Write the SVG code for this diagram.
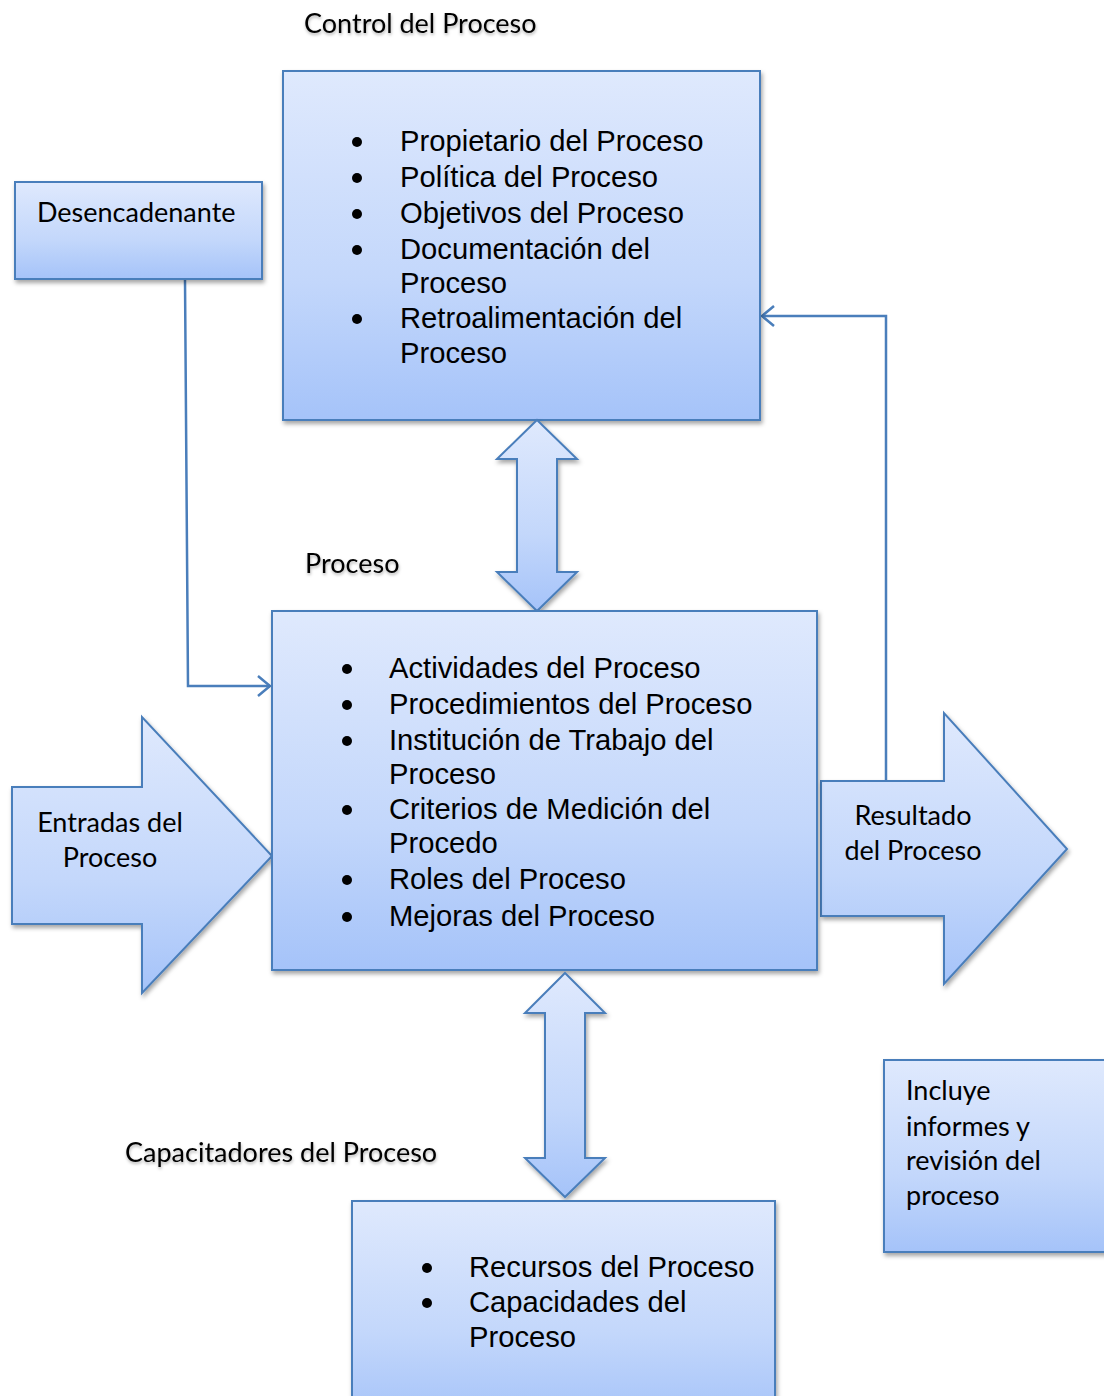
<svg xmlns="http://www.w3.org/2000/svg" width="1104" height="1396" viewBox="0 0 1104 1396">
  <defs>
    <linearGradient id="fill" x1="0" y1="0" x2="0" y2="1">
      <stop offset="0" stop-color="#dfe9fd"/>
      <stop offset="0.6" stop-color="#c3d7fb"/>
      <stop offset="1" stop-color="#a5c3f9"/>
    </linearGradient>
    <filter id="shadow" x="-10%" y="-10%" width="120%" height="120%">
      <feDropShadow dx="1.5" dy="3" stdDeviation="2" flood-color="#000" flood-opacity="0.35"/>
    </filter>
    <filter id="tshadow" x="-5%" y="-20%" width="110%" height="150%">
      <feDropShadow dx="0.5" dy="2" stdDeviation="1.5" flood-color="#000" flood-opacity="0.3"/>
    </filter>
    <marker id="open" markerUnits="userSpaceOnUse" markerWidth="16" markerHeight="24" refX="13" refY="11" orient="auto">
      <path d="M1,1 L13,11 L1,21" fill="none" stroke="#4a7ebb" stroke-width="2.5"/>
    </marker>
  </defs>
  <style>
    .shape { fill: url(#fill); stroke: #4a7ebb; stroke-width: 2; filter: url(#shadow); }
    .cal { font-family: Lato, "Liberation Sans", sans-serif; font-size: 27px; fill: #000; }
    .lbl { filter: url(#tshadow); }
    .ari { font-family: "Liberation Sans", Arial, sans-serif; font-size: 29.2px; fill: #000; }
    .conn { fill: none; stroke: #4a7ebb; stroke-width: 2.5; }
    .bul { fill: #000; }
  </style>
  <rect width="1104" height="1396" fill="#fff"/>

  <g id="labels">
    <text class="cal lbl" x="304" y="33">Control del Proceso</text>
    <text class="cal lbl" x="305" y="573">Proceso</text>
    <text class="cal lbl" x="125" y="1162">Capacitadores del Proceso</text>
  </g>

  <g id="connectors">
    <polyline class="conn" points="185,280 188,686 270,686" marker-end="url(#open)"/>
    <polyline class="conn" points="886,781 886,316 762,316" marker-end="url(#open)"/>
  </g>

  <g id="control">
    <rect class="shape" x="283" y="71" width="477" height="349"/>
    <g class="bul">
      <circle cx="357" cy="142" r="5"/>
      <circle cx="357" cy="178" r="5"/>
      <circle cx="357" cy="214" r="5"/>
      <circle cx="357" cy="250" r="5"/>
      <circle cx="357" cy="319" r="5"/>
    </g>
    <text class="ari" x="400" y="151">Propietario del Proceso</text>
    <text class="ari" x="400" y="187">Política del Proceso</text>
    <text class="ari" x="400" y="223">Objetivos del Proceso</text>
    <text class="ari" x="400" y="259">Documentación del</text>
    <text class="ari" x="400" y="293">Proceso</text>
    <text class="ari" x="400" y="328">Retroalimentación del</text>
    <text class="ari" x="400" y="363">Proceso</text>
  </g>

  <g id="desencadenante">
    <rect class="shape" x="15" y="182" width="247" height="97"/>
    <text class="cal" x="37" y="222">Desencadenante</text>
  </g>

  <g id="arrow-top">
    <path class="shape" d="M537,420 L577,459 L557,459 L557,572 L577,572 L537,611 L497,572 L517,572 L517,459 L497,459 Z"/>
  </g>

  <g id="entradas">
    <path class="shape" d="M12,787 L142,787 L142,717 L272,856 L142,993 L142,924 L12,924 Z"/>
    <text class="cal" x="110" y="832" text-anchor="middle">Entradas del</text>
    <text class="cal" x="110" y="867" text-anchor="middle">Proceso</text>
  </g>

  <g id="resultado">
    <path class="shape" d="M821,781 L944,781 L944,713 L1067,849 L944,984 L944,916 L821,916 Z"/>
    <text class="cal" x="913" y="825" text-anchor="middle">Resultado</text>
    <text class="cal" x="913" y="860" text-anchor="middle">del Proceso</text>
  </g>

  <g id="proceso">
    <rect class="shape" x="272" y="611" width="545" height="359"/>
    <g class="bul">
      <circle cx="347" cy="669" r="5"/>
      <circle cx="347" cy="705" r="5"/>
      <circle cx="347" cy="741" r="5"/>
      <circle cx="347" cy="810" r="5"/>
      <circle cx="347" cy="880" r="5"/>
      <circle cx="347" cy="917" r="5"/>
    </g>
    <text class="ari" x="389" y="678">Actividades del Proceso</text>
    <text class="ari" x="389" y="714">Procedimientos del Proceso</text>
    <text class="ari" x="389" y="750">Institución de Trabajo del</text>
    <text class="ari" x="389" y="784">Proceso</text>
    <text class="ari" x="389" y="819">Criterios de Medición del</text>
    <text class="ari" x="389" y="853">Procedo</text>
    <text class="ari" x="389" y="889">Roles del Proceso</text>
    <text class="ari" x="389" y="926">Mejoras del Proceso</text>
  </g>

  <g id="arrow-bottom">
    <path class="shape" d="M565,973 L605,1013 L585,1013 L585,1158 L605,1158 L565,1197 L525,1158 L545,1158 L545,1013 L525,1013 Z"/>
  </g>

  <g id="incluye">
    <rect class="shape" x="884" y="1060" width="230" height="192"/>
    <text class="cal" x="906" y="1100">Incluye</text>
    <text class="cal" x="906" y="1136">informes y</text>
    <text class="cal" x="906" y="1170">revisión del</text>
    <text class="cal" x="906" y="1205">proceso</text>
  </g>

  <g id="capacitadores">
    <rect class="shape" x="352" y="1201" width="423" height="220"/>
    <g class="bul">
      <circle cx="427" cy="1268" r="5"/>
      <circle cx="427" cy="1303" r="5"/>
    </g>
    <text class="ari" x="469" y="1277">Recursos del Proceso</text>
    <text class="ari" x="469" y="1312">Capacidades del</text>
    <text class="ari" x="469" y="1347">Proceso</text>
  </g>
</svg>
